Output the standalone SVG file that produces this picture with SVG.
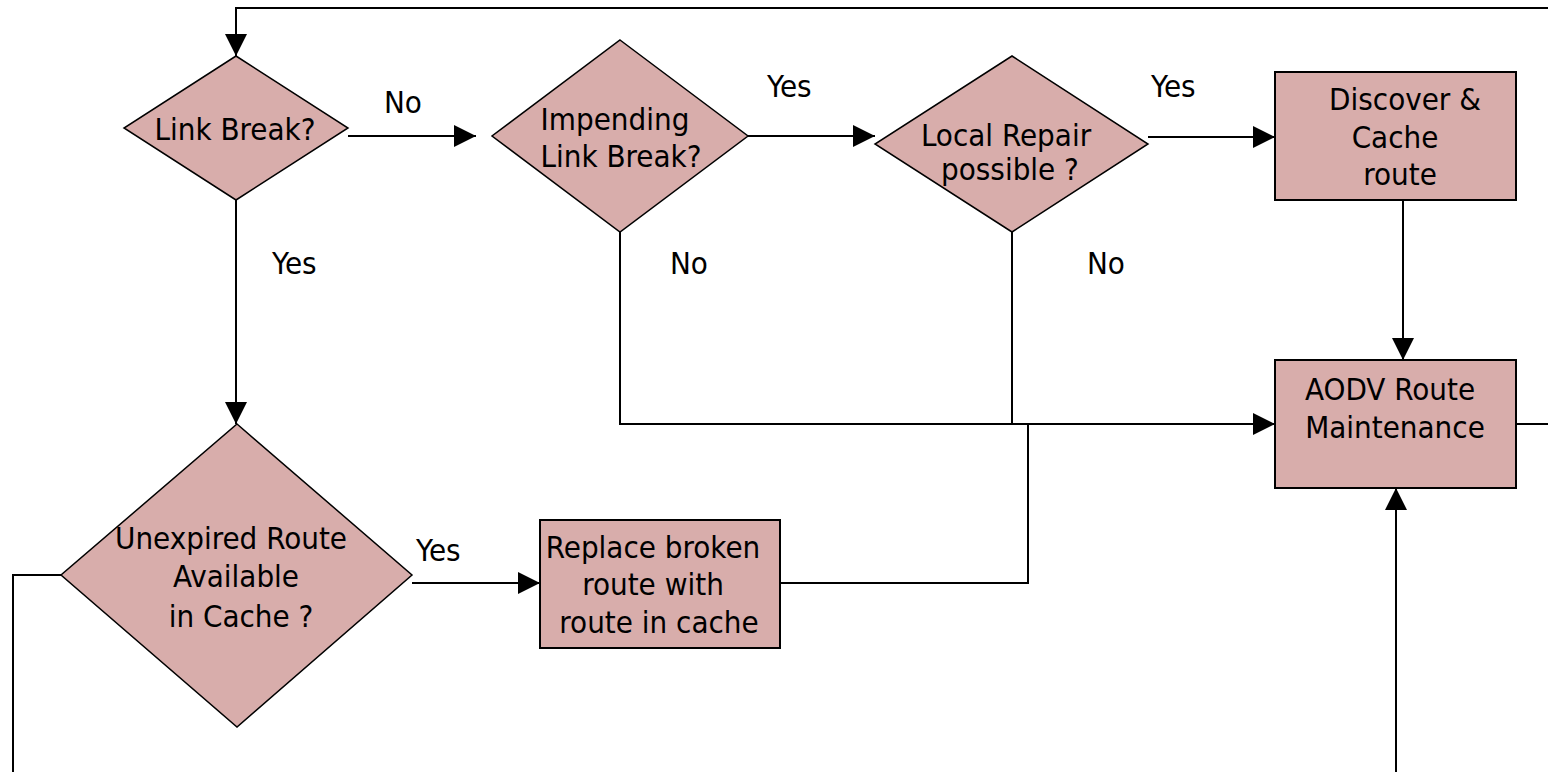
<svg xmlns="http://www.w3.org/2000/svg" width="1548" height="772" viewBox="0 0 1548 772">
<style>
.shape{fill:#D8ADAB;stroke:#000;stroke-width:1.5}
.box{fill:#D8ADAB;stroke:#000;stroke-width:2}
.t{font-family:"DejaVu Sans Condensed","DejaVu Sans",sans-serif;font-stretch:condensed;font-size:31px;fill:#000;text-anchor:middle}
.l{font-family:"DejaVu Sans Condensed","DejaVu Sans",sans-serif;font-stretch:condensed;font-size:31px;fill:#000}
.c{fill:none;stroke:#000;stroke-width:2}
.a{marker-end:url(#arr)}
</style>
<defs>
<marker id="arr" markerUnits="userSpaceOnUse" markerWidth="22" markerHeight="22" viewBox="0 0 20 20" refX="20" refY="10" orient="auto">
<path d="M0,0 L20,10 L0,20 Z" fill="#000"/>
</marker>
</defs>
<g id="connectors">
<path class="c a" d="M1516,424 H1570 V8 H236 V56"/>
<path class="c a" d="M348,136 H476"/>
<path class="c a" d="M748,136 H875"/>
<path class="c a" d="M1148,137 H1275"/>
<path class="c a" d="M1403,200 V360"/>
<path class="c a" d="M236,200 V424"/>
<path class="c a" d="M620,232 V424 H1275"/>
<path class="c" d="M1012,232 V424"/>
<path class="c" d="M780,583 H1028 V424"/>
<path class="c a" d="M412,583 H540"/>
<path class="c a" d="M61,575 H13 V800 H1396 V488"/>
</g>
<g id="labels">
<text class="l" x="384" y="113">No</text>
<text class="l" x="767" y="97">Yes</text>
<text class="l" x="1151" y="97">Yes</text>
<text class="l" x="272" y="274">Yes</text>
<text class="l" x="670" y="274">No</text>
<text class="l" x="1087" y="274">No</text>
<text class="l" x="416" y="561">Yes</text>
</g>
<g id="link-break">
<polygon class="shape" points="236,56 348,128 236,200 124,128"/>
<text class="t" x="235" y="140">Link Break?</text>
</g>
<g id="impending">
<polygon class="shape" points="620,40 748,136 620,232 492,136"/>
<text class="t" x="615" y="130">Impending</text>
<text class="t" x="621" y="167">Link Break?</text>
</g>
<g id="local-repair">
<polygon class="shape" points="1012,56 1148,144 1012,232 875,144"/>
<text class="t" x="1006" y="146">Local Repair</text>
<text class="t" x="1010" y="180">possible ?</text>
</g>
<g id="discover">
<rect class="box" x="1275" y="72" width="241" height="128"/>
<text class="t" x="1405" y="110">Discover &amp;</text>
<text class="t" x="1395" y="148">Cache</text>
<text class="t" x="1400" y="185">route</text>
</g>
<g id="aodv">
<rect class="box" x="1275" y="360" width="241" height="128"/>
<text class="t" x="1390" y="400">AODV Route</text>
<text class="t" x="1395" y="438">Maintenance</text>
</g>
<g id="unexpired">
<polygon class="shape" points="237,424 412,575 237,727 61,575"/>
<text class="t" x="231" y="549">Unexpired Route</text>
<text class="t" x="236" y="587">Available</text>
<text class="t" x="241" y="627">in Cache ?</text>
</g>
<g id="replace">
<rect class="box" x="540" y="520" width="240" height="128"/>
<text class="t" x="653" y="558">Replace broken</text>
<text class="t" x="653" y="595">route with</text>
<text class="t" x="659" y="633">route in cache</text>
</g>
</svg>
